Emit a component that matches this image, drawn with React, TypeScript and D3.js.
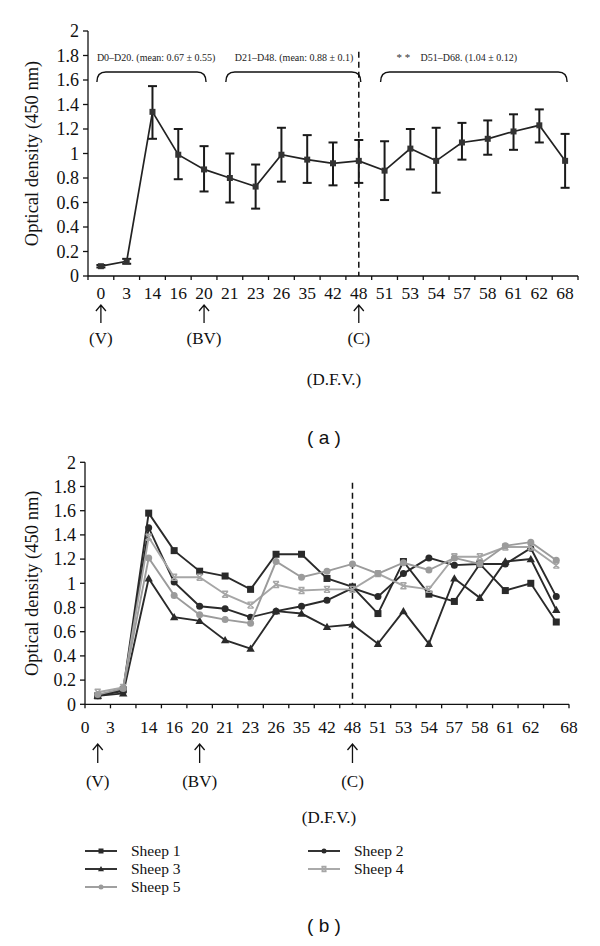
import React from "react";
import * as d3 from "d3";

const days = ["0", "3", "14", "16", "20", "21", "23", "26", "35", "42", "48", "51", "53", "54", "57", "58", "61", "62", "68"];
const meanOD = [0.08, 0.12, 1.34, 0.99, 0.87, 0.8, 0.73, 0.99, 0.95, 0.92, 0.94, 0.86, 1.04, 0.94, 1.09, 1.12, 1.18, 1.23, 0.94];
const errLow = [0.07, 0.1, 1.12, 0.79, 0.69, 0.6, 0.55, 0.77, 0.76, 0.74, 0.76, 0.62, 0.87, 0.68, 0.95, 0.99, 1.03, 1.09, 0.72];
const errHigh = [0.09, 0.14, 1.55, 1.2, 1.06, 1.0, 0.91, 1.21, 1.15, 1.09, 1.11, 1.1, 1.2, 1.21, 1.25, 1.27, 1.32, 1.36, 1.16];

const sheep1 = [0.07, 0.12, 1.58, 1.27, 1.1, 1.06, 0.95, 1.24, 1.24, 1.04, 0.97, 0.75, 1.18, 0.91, 0.85, 1.16, 0.94, 1.0, 0.68];
const sheep2 = [0.07, 0.11, 1.46, 1.01, 0.81, 0.79, 0.72, 0.77, 0.81, 0.86, 0.96, 0.89, 1.08, 1.21, 1.15, 1.16, 1.16, 1.29, 0.89];
const sheep3 = [0.07, 0.09, 1.04, 0.72, 0.69, 0.53, 0.46, 0.77, 0.75, 0.64, 0.66, 0.5, 0.77, 0.5, 1.04, 0.88, 1.18, 1.2, 0.78];
const sheep4 = [0.1, 0.14, 1.38, 1.05, 1.05, 0.91, 0.82, 0.99, 0.94, 0.95, 0.95, 1.08, 0.98, 0.95, 1.22, 1.22, 1.3, 1.3, 1.15];
const sheep5 = [0.08, 0.13, 1.21, 0.9, 0.74, 0.7, 0.67, 1.18, 1.05, 1.1, 1.16, 1.08, 1.17, 1.11, 1.21, 1.16, 1.31, 1.34, 1.19];

const yTicks = [0, 0.2, 0.4, 0.6, 0.8, 1, 1.2, 1.4, 1.6, 1.8, 2];
const events = [
  { day: "0", label: "(V)" },
  { day: "20", label: "(BV)" },
  { day: "48", label: "(C)" },
];
const braces = [
  { from: "0", to: "20", text: "D0–D20. (mean: 0.67 ± 0.55)", stars: "" },
  { from: "21", to: "48", text: "D21–D48. (mean: 0.88 ± 0.1)", stars: "" },
  { from: "51", to: "68", text: "D51–D68. (1.04 ± 0.12)", stars: "* *" },
];

const DARK = "#2a2a2a";
const GRAY = "#9b9b9b";
const series = [
  { name: "Sheep 1", values: sheep1, color: DARK, marker: "square" },
  { name: "Sheep 2", values: sheep2, color: DARK, marker: "circle" },
  { name: "Sheep 3", values: sheep3, color: DARK, marker: "triangle" },
  { name: "Sheep 4", values: sheep4, color: "#a6a6a6", marker: "x" },
  { name: "Sheep 5", values: sheep5, color: GRAY, marker: "circle" },
];
const legendOrder = [
  { idx: 0, col: 0, row: 0 },
  { idx: 1, col: 1, row: 0 },
  { idx: 2, col: 0, row: 1 },
  { idx: 3, col: 1, row: 1 },
  { idx: 4, col: 0, row: 2 },
];

const SERIF = "'Liberation Serif', 'Times New Roman', serif";
const SANS = "'Liberation Sans', Arial, sans-serif";

function fmt(v: number) {
  return String(+v.toFixed(1));
}

function Marker({ type, x, y, color, size }: { type: string; x: number; y: number; color: string; size: number }) {
  const s = size;
  if (type === "square") return <rect x={x - s / 2} y={y - s / 2} width={s} height={s} fill={color} />;
  if (type === "circle") return <circle cx={x} cy={y} r={s / 2} fill={color} />;
  if (type === "triangle")
    return <path d={`M${x},${y - s * 0.6}L${x + s * 0.6},${y + s * 0.45}L${x - s * 0.6},${y + s * 0.45}Z`} fill={color} />;
  const h = s / 2;
  return (
    <path
      d={`M${x - h},${y - h}L${x + h},${y + h}M${x + h},${y - h}L${x - h},${y + h}M${x - h},${y - h}L${x + h},${y - h}M${x - h},${y + h}L${x + h},${y + h}`}
      stroke={color}
      strokeWidth={1.4}
      fill="none"
    />
  );
}

function Arrow({ x, y1, y2 }: { x: number; y1: number; y2: number }) {
  return (
    <path d={`M${x},${y2}L${x},${y1}M${x - 5},${y1 + 6}L${x},${y1}L${x + 5},${y1 + 6}`} stroke="#111" strokeWidth={1.3} fill="none" />
  );
}

function Axes({ x, y, x0, x1, y0, labelPos, labelY, tickLen }: any) {
  const bw = x.bandwidth();
  const bounds = days.map((d) => x(d)).concat([x.range()[1]]);
  return (
    <g>
      <line x1={x0} x2={x0} y1={y(2)} y2={y0} stroke="#111" strokeWidth={1.3} />
      <line x1={x0} x2={x1} y1={y0} y2={y0} stroke="#111" strokeWidth={1.3} />
      {yTicks.map((t) => (
        <g key={t}>
          <line x1={x0 - 5} x2={x0} y1={y(t)} y2={y(t)} stroke="#111" strokeWidth={1.3} />
          <text x={x0 - 9} y={y(t)} dy="0.35em" textAnchor="end" fontFamily={SERIF} fontSize={18} fill="#111">
            {fmt(t)}
          </text>
        </g>
      ))}
      {bounds.map((b, i) => (
        <line key={i} x1={b} x2={b} y1={y0} y2={y0 + tickLen} stroke="#111" strokeWidth={1.3} />
      ))}
      {days.map((d, i) => (
        <text key={d} x={labelPos(d, i, bw)} y={labelY} textAnchor="middle" fontFamily={SERIF} fontSize={17.5} fill="#111">
          {d}
        </text>
      ))}
    </g>
  );
}

export default function App() {
  // ---------- Top chart (a)
  const xA = d3.scaleBand<string>().domain(days).range([88, 578]);
  const yA = d3.scaleLinear().domain([0, 2]).range([276, 31]);
  const cA = (d: string) => (xA(d) as number) + xA.bandwidth() / 2;
  const lineA = d3
    .line<number>()
    .x((_, i) => cA(days[i]))
    .y((v) => yA(v));

  // ---------- Bottom chart (b)
  const xB = d3.scaleBand<string>().domain(days).range([85, 569]);
  const yB = d3.scaleLinear().domain([0, 2]).range([704.3, 462.3]);
  const cB = (d: string) => (xB(d) as number) + xB.bandwidth() / 2;
  const lineB = d3
    .line<number>()
    .x((_, i) => cB(days[i]))
    .y((v) => yB(v));

  const labelPosB = (d: string, i: number, bw: number) => {
    if (i === 0) return xB.range()[0];
    if (i === 1) return xB(d) as number;
    if (i === days.length - 1) return xB.range()[1];
    return (xB(d) as number) + bw / 2;
  };
  const labelPosA = (d: string) => cA(d);

  return (
    <svg width={600} height={946} style={{ position: "absolute", left: 0, top: 0, background: "#fff" }}>
      <rect width={600} height={946} fill="#fff" />
      {/* ===== Chart (a) ===== */}
      <Axes x={xA} y={yA} x0={88} x1={578} y0={276} labelPos={labelPosA} labelY={299} tickLen={4} />
      <text
        transform={`translate(32,${(yA(0) + yA(2)) / 2}) rotate(-90)`}
        textAnchor="middle"
        dy="0.35em"
        fontFamily={SERIF}
        fontSize={18.5}
        fill="#111"
      >
        Optical density (450 nm)
      </text>
      <line x1={cA("48")} x2={cA("48")} y1={yA(1.83)} y2={yA(0)} stroke="#111" strokeWidth={1.5} strokeDasharray="6,4" />
      {braces.map((b, i) => {
        const xs = cA(b.from) - 4;
        const xe = cA(b.to) + 2;
        const yt = 72;
        const yb = 82;
        const r = 9;
        return (
          <g key={i}>
            <path
              d={`M${xs},${yb}Q${xs},${yt} ${xs + r},${yt}L${xe - r},${yt}Q${xe},${yt} ${xe},${yb}`}
              stroke="#111"
              strokeWidth={1.4}
              fill="none"
            />
            {b.stars ? (
              <text x={xs + 16} y={61} fontFamily={SERIF} fontSize={11} fill="#333">
                {b.stars}
              </text>
            ) : null}
            <text x={b.stars ? xs + 40 : xs + (i === 1 ? 9 : 0)} y={61} fontFamily={SERIF} fontSize={10} fill="#222">
              {b.text}
            </text>
          </g>
        );
      })}
      {meanOD.map((m, i) => {
        const cx = cA(days[i]);
        return (
          <g key={i}>
            <line x1={cx} x2={cx} y1={yA(errLow[i])} y2={yA(errHigh[i])} stroke="#1a1a1a" strokeWidth={2} />
            <line x1={cx - 4.5} x2={cx + 4.5} y1={yA(errLow[i])} y2={yA(errLow[i])} stroke="#1a1a1a" strokeWidth={2} />
            <line x1={cx - 4.5} x2={cx + 4.5} y1={yA(errHigh[i])} y2={yA(errHigh[i])} stroke="#1a1a1a" strokeWidth={2} />
          </g>
        );
      })}
      <path d={lineA(meanOD) || ""} stroke="#222" strokeWidth={1.7} fill="none" />
      {meanOD.map((m, i) => (
        <Marker key={i} type="square" x={cA(days[i])} y={yA(m)} color="#333" size={6} />
      ))}
      {events.map((e) => (
        <g key={e.label}>
          <Arrow x={cA(e.day)} y1={305} y2={323} />
          <text x={cA(e.day)} y={344} textAnchor="middle" fontFamily={SERIF} fontSize={17} fill="#111">
            {e.label}
          </text>
        </g>
      ))}
      <text x={334} y={385} textAnchor="middle" fontFamily={SERIF} fontSize={17} fill="#111">
        (D.F.V.)
      </text>
      <text x={324} y={444} textAnchor="middle" fontFamily={SANS} fontSize={19} fill="#111">
        ( a )
      </text>

      {/* ===== Chart (b) ===== */}
      <Axes x={xB} y={yB} x0={85} x1={569} y0={704.3} labelPos={labelPosB} labelY={733} tickLen={4} />
      <text
        transform={`translate(32,${(yB(0) + yB(2)) / 2}) rotate(-90)`}
        textAnchor="middle"
        dy="0.35em"
        fontFamily={SERIF}
        fontSize={18.5}
        fill="#111"
      >
        Optical density (450 nm)
      </text>
      <line x1={cB("48")} x2={cB("48")} y1={yB(1.83)} y2={yB(0)} stroke="#111" strokeWidth={1.5} strokeDasharray="6,4" />
      {series.map((s) => (
        <g key={s.name}>
          <path d={lineB(s.values) || ""} stroke={s.color} strokeWidth={1.9} fill="none" />
          {s.values.map((v, i) => (
            <Marker key={i} type={s.marker} x={cB(days[i])} y={yB(v)} color={s.color} size={s.marker === "x" ? 6 : 7} />
          ))}
        </g>
      ))}
      {events.map((e) => (
        <g key={e.label}>
          <Arrow x={cB(e.day)} y1={744} y2={763} />
          <text x={cB(e.day)} y={787} textAnchor="middle" fontFamily={SERIF} fontSize={17} fill="#111">
            {e.label}
          </text>
        </g>
      ))}
      <text x={329} y={823} textAnchor="middle" fontFamily={SERIF} fontSize={17} fill="#111">
        (D.F.V.)
      </text>
      {legendOrder.map((l) => {
        const s = series[l.idx];
        const lx = l.col === 0 ? 85 : 308;
        const ly = 851 + l.row * 18;
        return (
          <g key={s.name}>
            <line x1={lx} x2={lx + 32} y1={ly} y2={ly} stroke={s.color} strokeWidth={1.9} />
            <Marker type={s.marker} x={lx + 16} y={ly} color={s.color} size={5} />
            <text x={lx + 46} y={ly} dy="0.35em" fontFamily={SERIF} fontSize={15.5} fill="#111">
              {s.name}
            </text>
          </g>
        );
      })}
      <text x={324} y={932} textAnchor="middle" fontFamily={SANS} fontSize={19} fill="#111">
        ( b )
      </text>
    </svg>
  );
}
